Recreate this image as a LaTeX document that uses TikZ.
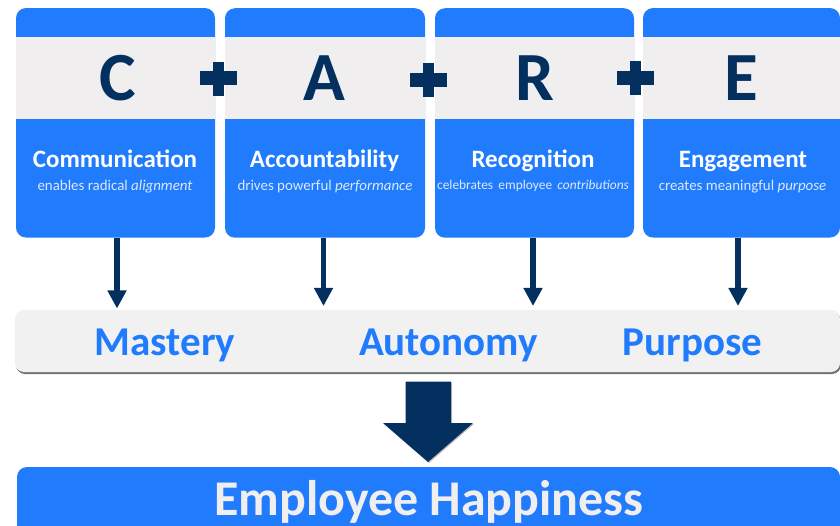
\documentclass[tikz,border=0pt]{standalone}
\usepackage{fontspec}
\setmainfont{Carlito}
\usetikzlibrary{arrows.meta,shadows}
\definecolor{careblue}{HTML}{217BFD}
\definecolor{bandgray}{HTML}{F0EEEF}
\definecolor{panelgray}{HTML}{F1F1F1}
\definecolor{navy}{HTML}{03305F}
\definecolor{subtxt}{HTML}{DCE9FB}
\tikzset{
  x=1pt,y=-1pt,
  box/.style={inner sep=0pt,outer sep=0pt,draw=none},
  card/.style={box,fill=careblue,rounded corners=10pt,minimum height=229.5pt},
  band/.style={box,fill=bandgray,minimum height=82.5pt},
  letter/.style={anchor=base,inner sep=0pt,text=navy,font=\fontsize{69}{69}\selectfont\bfseries},
  title/.style={anchor=base,inner sep=0pt,text=white,font=\fontsize{25}{25}\selectfont\bfseries},
  sub/.style={anchor=base,inner sep=0pt,text=subtxt,font=\fontsize{14.9}{15}\selectfont},
  goal/.style={anchor=base,inner sep=0pt,text=careblue,font=\fontsize{41}{41}\selectfont\bfseries},
  conn/.style={draw=navy,line width=5.6pt,-{Triangle[width=18pt,length=18pt]}},
  plush/.style={box,fill=navy,minimum width=37pt,minimum height=14pt},
  plusv/.style={box,fill=navy,minimum width=11pt,minimum height=34pt},
}
\begin{document}
\begin{tikzpicture}
\useasboundingbox (0,0) rectangle (840,526);
% cards
\node[card,minimum width=199pt] (card1) at (115.5,122.8) {};
\node[card,minimum width=200pt] (card2) at (325,123) {};
\node[card,minimum width=199pt] (card3) at (534.5,123) {};
\node[card,minimum width=197pt] (card4) at (741.5,122.8) {};
% bands
\node[band,minimum width=199pt] (band1) at (115.5,78) {};
\node[band,minimum width=200pt] (band2) at (325,78) {};
\node[band,minimum width=199pt] (band3) at (534.5,78) {};
\node[band,minimum width=197pt] (band4) at (741.5,78) {};
% letters
\node[letter] (lc) at (117.5,100.5) {C};
\node[letter] (la) at (324,100.5) {A};
\node[letter] (lr) at (535,100.5) {R};
\node[letter] (le) at (741,100.5) {E};
% plus signs
\node[plush] (p1h) at (218.5,78.5) {};
\node[plusv] (p1v) at (218.5,79) {};
\node[plush] (p2h) at (428,80.5) {};
\node[plusv] (p2v) at (428,80.5) {};
\node[plush] (p3h) at (635.5,78) {};
\node[plusv] (p3v) at (635.5,78) {};
% card text
\node[title] (t1) at (115,168) {Communication};
\node[title] (t2) at (324.5,168) {Accountability};
\node[title] (t3) at (533,168) {Recognition};
\node[title] (t4) at (743,168) {Engagement};
\node[sub] (s1) at (115,191) {enables radical \textit{alignment}};
\node[sub] (s2) at (325,191) {drives powerful \textit{performance}};
\node[sub,font=\fontsize{13.4}{14}\selectfont] (s3) at (533,190) {celebrates\, employee\, \textit{contributions}};
\node[sub] (s4) at (742.5,191) {creates meaningful \textit{purpose}};
% panel and bar
\node[box,fill=panelgray,rounded corners=9pt,minimum width=825pt,minimum height=62pt,
  drop shadow={shadow xshift=1pt,shadow yshift=-2pt,fill=black,opacity=.55}] (panel) at (427.5,341) {};
\node[goal] (g1) at (165,355) {Mastery};
\node[goal] (g2) at (448.5,355) {Autonomy};
\node[goal] (g3) at (692.5,355) {Purpose};
\node[box,fill=careblue,rounded corners=10pt,minimum width=823pt,minimum height=80pt] (bar) at (428.5,507) {};
\node[anchor=base,inner sep=0pt,text=bandgray,font=\fontsize{50}{50}\selectfont\bfseries] (happy) at (429,515) {Employee Happiness};
% connectors
\coordinate (e1) at (117,308.5);
\coordinate (e2) at (323.5,306);
\coordinate (e3) at (533,306);
\coordinate (e4) at (738,306);
\draw[conn] (e1 |- card1.south) -- (e1);
\draw[conn] (e2 |- card2.south) -- (e2);
\draw[conn] (e3 |- card3.south) -- (e3);
\draw[conn] (e4 |- card4.south) -- (e4);
% large arrow
\fill[navy,drop shadow={shadow xshift=1pt,shadow yshift=-1pt,fill=black,opacity=.25}]
  (405.5,381.5) -- (451,381.5) -- (451,423) -- (473,423) -- (428,462) -- (383,423) -- (405.5,423) -- cycle;
\end{tikzpicture}
\end{document}
